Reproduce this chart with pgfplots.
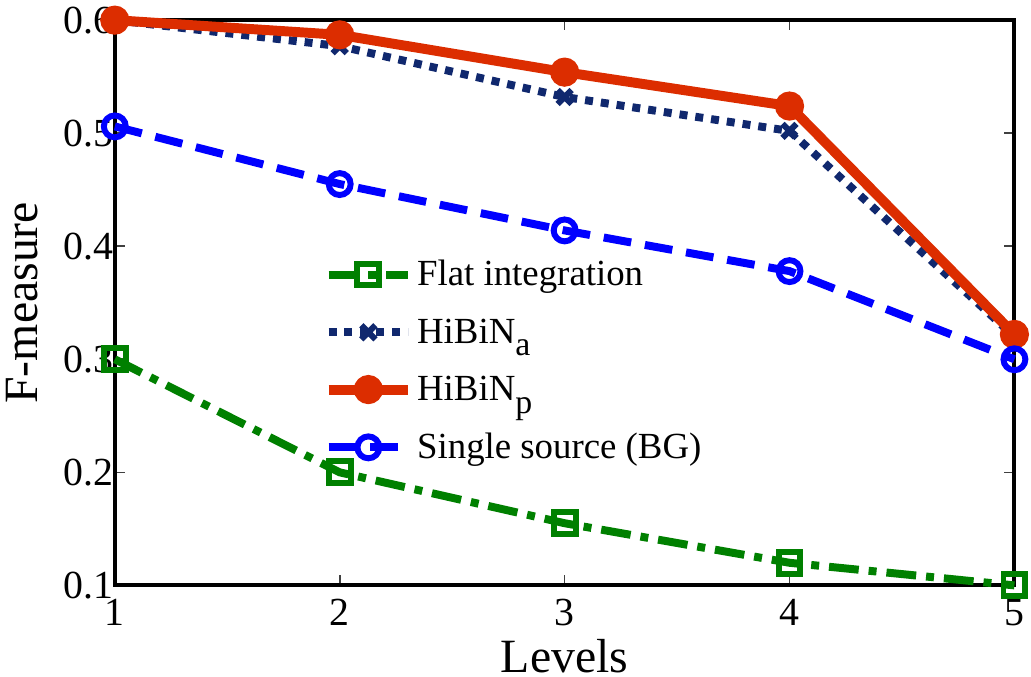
\documentclass[border=0pt]{standalone}
\usepackage{fontspec}
\setmainfont{Liberation Serif}
\usepackage{pgfplots}
\pgfplotsset{compat=1.18}
\definecolor{cgreen}{RGB}{0,128,0}
\definecolor{cnavy}{RGB}{16,40,110}
\definecolor{cred}{RGB}{220,45,0}
\definecolor{cblue}{RGB}{0,0,255}
\newcommand{\sub}[1]{\raisebox{-6.5pt}{\fontsize{17}{17}\selectfont #1}}
\begin{document}
\begin{tikzpicture}
\begin{axis}[
  scale only axis,
  width=452pt, height=284pt,
  xmin=1, xmax=5, ymin=0.1, ymax=0.6,
  xtick={1,2,3,4,5}, ytick={0.1,0.2,0.3,0.4,0.5,0.6},
  /pgf/number format/assume math mode=true,
  yticklabel style={/pgf/number format/fixed,/pgf/number format/precision=1},
  tick label style={font=\rmfamily\fontsize{20}{24}\selectfont},
  label style={font=\rmfamily\fontsize{24}{28}\selectfont},
  xlabel={Levels}, ylabel={F-measure},
  xlabel style={inner ysep=2pt, yshift=-1pt},
  ylabel style={yshift=6pt},
  axis line style={line width=2pt},
  tick style={darkgray, line width=0.8pt},
  major tick length=5pt,
  tick align=inside,
  xticklabel style={yshift=-3.5pt},
  yticklabel style={xshift=3pt},
  clip=false,
  legend style={draw=none, fill=none, at={(0.225,0.59)}, anchor=north west,
    font=\rmfamily\fontsize{18.5}{22}\selectfont, row sep=11pt},
  legend cell align=left,
  legend image code/.code={\draw[mark repeat=2,mark phase=2] plot coordinates {(0pt,0pt) (20pt,0pt) (40pt,0pt)};},
]
\addplot[cgreen, line width=4pt, dash pattern=on 15pt off 5pt on 4pt off 5pt, mark=square, mark size=5.5pt, mark options={solid, line width=3pt}]
  coordinates {(1,0.300) (2,0.200) (3,0.155) (4,0.120) (5,0.100)};
\addlegendentry{Flat integration}
\addplot[cnavy, line width=4pt, dash pattern=on 4pt off 4pt, mark=x, mark size=5pt, mark options={solid, line width=3pt}]
  coordinates {(1,0.600) (2,0.577) (3,0.532) (4,0.502) (5,0.320)};
\addlegendentry{HiBiN\sub{a}}
\addplot[cred, line width=5pt, mark=*, mark size=4.8pt, mark options={solid}]
  coordinates {(1,0.600) (2,0.587) (3,0.554) (4,0.524) (5,0.322)};
\addlegendentry{HiBiN\sub{p}}
\addplot[cblue, line width=4pt, dash pattern=on 14pt off 7pt, mark=o, mark size=5.5pt, mark options={solid, line width=3pt}]
  coordinates {(1,0.506) (2,0.455) (3,0.414) (4,0.378) (5,0.300)};
\addlegendentry{Single source (BG)}
\path (rel axis cs:0.5,1) ++(0,12pt) coordinate (topmargin);
\end{axis}
\end{tikzpicture}
\end{document}
